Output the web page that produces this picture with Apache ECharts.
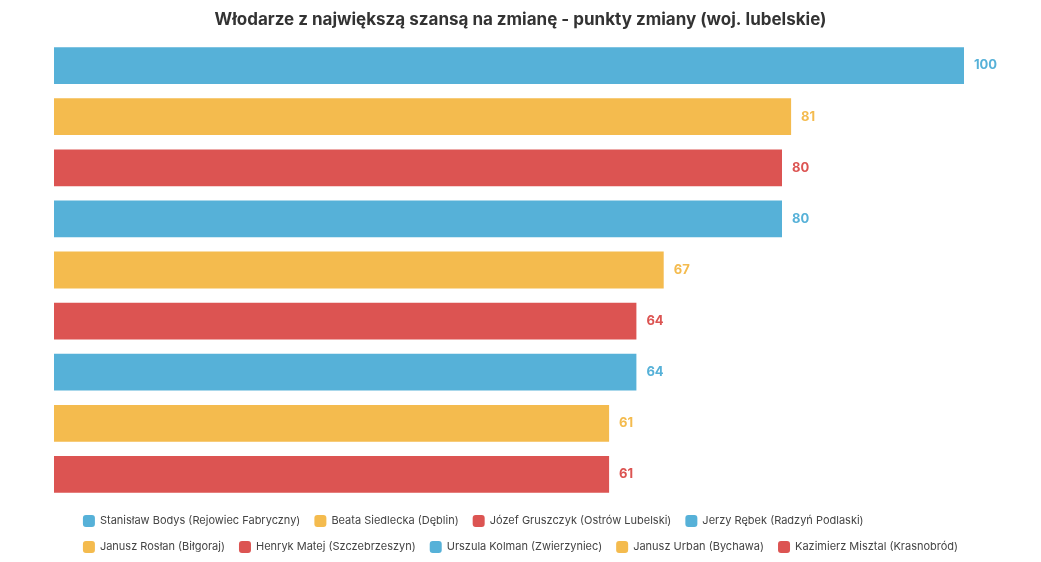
<!DOCTYPE html>
<html>
<head>
<meta charset="utf-8">
<script src="https://cdn.jsdelivr.net/npm/echarts@6/dist/echarts.min.js"></script>
<style>html,body{margin:0;padding:0;background:#fff}#chart{width:1041px;height:562px}</style>
</head>
<body>
<div id="chart"></div>
<script>
var names = ["Stanisław Bodys (Rejowiec Fabryczny)", "Beata Siedlecka (Dęblin)", "Józef Gruszczyk (Ostrów Lubelski)",
    "Jerzy Rębek (Radzyń Podlaski)", "Janusz Rosłan (Biłgoraj)", "Henryk Matej (Szczebrzeszyn)",
    "Urszula Kolman (Zwierzyniec)", "Janusz Urban (Bychawa)", "Kazimierz Misztal (Krasnobród)"];
var values = [100, 81, 80, 80, 67, 64, 64, 61, 61];
var colors = ["#56b1d8", "#f4bb4e", "#dc5452"];

var series = names.map(function (name, i) {
    var data = names.map(function (n, j) { return j === i ? values[i] : null; });
    var color = colors[i % 3];
    return {
        name: name,
        type: "bar",
        stack: "all",
        barWidth: "72%",
        itemStyle: { color: color },
        label: {
            show: true, position: "right", distance: 10,
            color: color, fontWeight: "bold", fontSize: 13, fontFamily: "Inter"
        },
        data: data
    };
});

var chart = echarts.init(document.getElementById("chart"));
chart.setOption({
    animation: false,
    textStyle: { fontFamily: "Inter" },
    title: {
        text: "Włodarze z największą szansą na zmianę - punkty zmiany (woj. lubelskie)",
        left: "center", top: 6,
        textStyle: { fontSize: 17, fontWeight: "bold", color: "#333", fontFamily: "Inter" }
    },
    legend: {
        bottom: 4, left: "center", width: 920,
        itemWidth: 12, itemHeight: 12, itemGap: 14, icon: "roundRect",
        textStyle: { fontSize: 11, color: "#444" },
        data: names
    },
    grid: { left: 54, right: 77, top: 40, bottom: 62 },
    xAxis: { type: "value", min: 0, max: 100, show: false },
    yAxis: { type: "category", inverse: true, data: names, show: false },
    series: series
});
</script>
</body>
</html>
